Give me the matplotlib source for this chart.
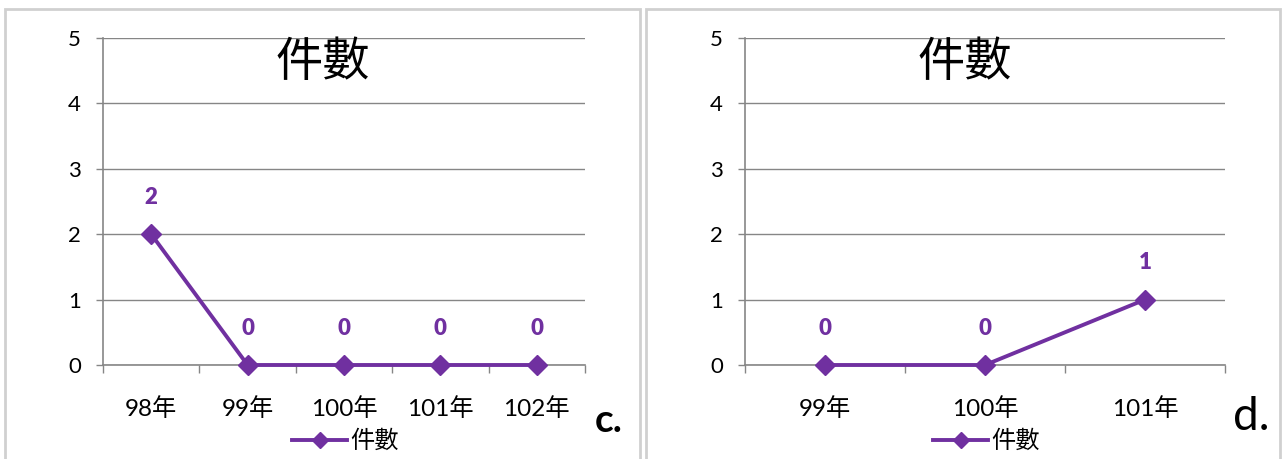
import matplotlib
matplotlib.use("Agg")
import matplotlib.pyplot as plt
from matplotlib.patches import Rectangle

plt.rcParams['font.family'] = ['Lato', 'Noto Sans CJK TC', 'DejaVu Sans']

# Data
cats_c = ["98年", "99年", "100年", "101年", "102年"]
vals_c = [2, 0, 0, 0, 0]
cats_d = ["99年", "100年", "101年"]
vals_d = [0, 0, 1]
series_name = "件數"
title = "件數"
yticks = [0, 1, 2, 3, 4, 5]

W, H = 1283, 459
fig = plt.figure(figsize=(W / 100, H / 100), dpi=100)

purple = "#7030A0"
grid_gray = "#868686"
border_gray = "#D0D0D0"

# panel borders
for (x0, x1) in [(5, 640), (646, 1280)]:
    fig.patches.append(Rectangle((x0 / W, -0.05), (x1 - x0) / W, 1 - 9 / H + 0.05,
                                 transform=fig.transFigure, fill=False,
                                 edgecolor=border_gray, linewidth=2))


def make_panel(left_px, right_px, cats, vals, letter, letter_xy, letter_kw, title_x):
    ax = fig.add_axes([left_px / W, 1 - 365 / H, (right_px - left_px) / W, (365 - 38) / H])
    n = len(cats)
    xs = list(range(n))
    ax.plot(xs, vals, color=purple, linewidth=2.8, marker='D', markersize=10,
            clip_on=False, zorder=5, label=series_name)
    for x, v in zip(xs, vals):
        ax.annotate(str(v), (x, v), xytext=(0, 37 / 1.389), textcoords='offset points',
                    ha='center', va='center', color=purple, fontsize=16, fontweight='heavy')
    ax.set_xlim(-0.5, n - 0.5)
    ax.set_ylim(0, 5)
    ax.set_yticks(yticks)
    ax.set_yticklabels([str(t) for t in yticks])
    ax.yaxis.grid(True, color=grid_gray, linewidth=1)
    ax.set_axisbelow(True)
    ax.set_xticks(xs)
    ax.set_xticklabels(cats)
    ax.set_xticks([i - 0.5 for i in range(n + 1)], minor=True)
    ax.tick_params(axis='x', which='major', length=0, pad=23, labelsize=17.5)
    ax.tick_params(axis='x', which='minor', length=6, width=1, color=grid_gray, direction='out')
    ax.tick_params(axis='y', length=5, width=1, color=grid_gray, pad=11, labelsize=16)
    for s in ['top', 'right']:
        ax.spines[s].set_visible(False)
    for s in ['left', 'bottom']:
        ax.spines[s].set_color(grid_gray)
        ax.spines[s].set_linewidth(1.2)
    # legend
    ax.legend(loc='center', bbox_to_anchor=((345 - 103) / 482, (365 - 441) / 327),
              frameon=False, fontsize=17.5, handlelength=2.3, handletextpad=0.1,
              borderpad=0, borderaxespad=0, markerscale=0.8)
    fig.text(title_x / W, 1 - 62 / H, title, ha='center', va='center', fontsize=34)
    fig.text(letter_xy[0] / W, 1 - letter_xy[1] / H, letter, ha='center', va='center', **letter_kw)
    return ax


make_panel(103, 585, cats_c, vals_c, "c.", (609, 421), dict(fontsize=28, fontweight='bold'), 323)
make_panel(745, 1225, cats_d, vals_d, "d.", (1251, 417), dict(fontsize=33), 965)

fig.savefig("out.png", dpi=100)
